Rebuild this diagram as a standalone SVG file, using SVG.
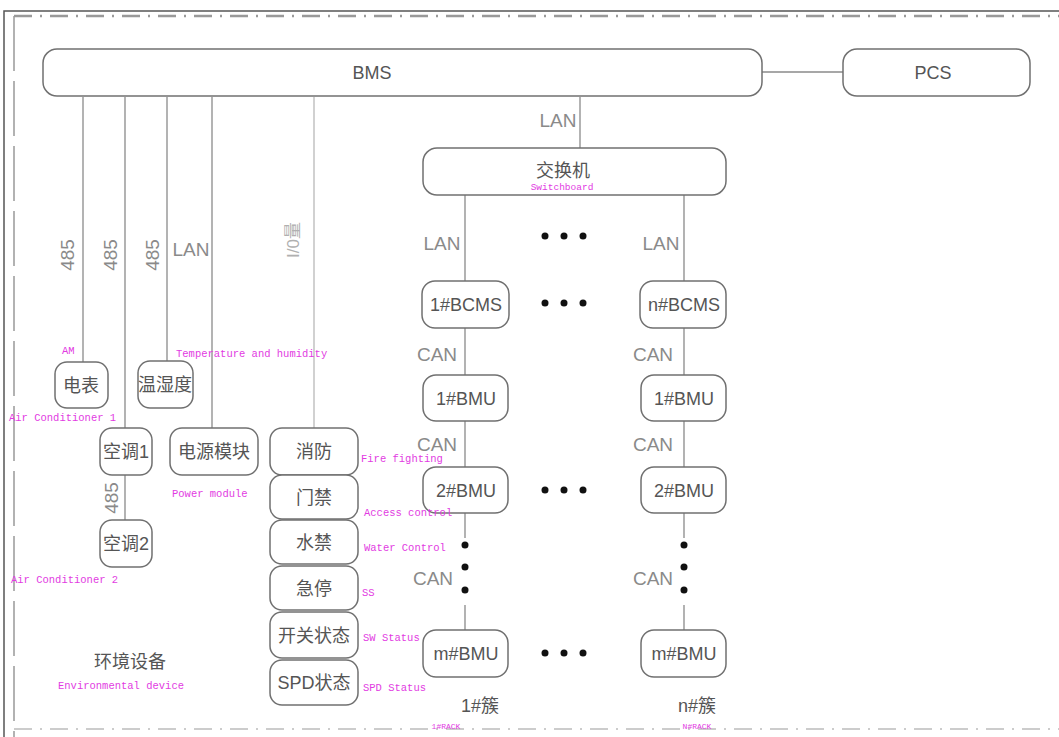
<svg xmlns="http://www.w3.org/2000/svg" width="1059" height="737" viewBox="0 0 1059 737">
<style>
.box{fill:#fff;stroke:#707070;stroke-width:1.5}
.ln{stroke:#8a8a8a;stroke-width:1.3;fill:none}
.lnl{stroke:#b8b8b8;stroke-width:1.3;fill:none}
.t{font-family:"Liberation Sans","Noto Sans CJK SC",sans-serif;fill:#555;font-size:18px;text-anchor:middle}
.lb{font-family:"Liberation Sans","Noto Sans CJK SC",sans-serif;fill:#8a8a8a;font-size:19px;text-anchor:middle}
.m{font-family:"Liberation Mono",monospace;fill:#e23be2;font-size:10.5px}
.ms{font-family:"Liberation Mono",monospace;fill:#e23be2;font-size:8px;text-anchor:middle}
.dot{fill:#111}
</style>
<rect width="1059" height="737" fill="#fff"/>
<g id="frame">
<path d="M4,737 V11 H1059" stroke="#555" stroke-width="1.5" fill="none"/>
<path d="M14,16 H1059" stroke="#999" stroke-width="2.5" stroke-dasharray="18,8,2,8" fill="none"/>
<path d="M14,16 V737" stroke="#999" stroke-width="1.5" stroke-dasharray="55,10" fill="none"/>
<path d="M14,729 H1059" stroke="#ccc" stroke-width="2" stroke-dasharray="18,8,2,8" fill="none"/>
</g>
<g id="connectors">
<path class="ln" d="M762,72 H843"/>
<path class="ln" d="M580,97 V148"/>
<path class="ln" d="M465,195 V281 M465,328 V375 M465,421 V467 M465,513 V538 M465,605 V630"/>
<path class="ln" d="M684,195 V281 M684,328 V375 M684,421 V467 M684,513 V538 M684,605 V630"/>
<path class="ln" d="M83,97 V362"/>
<path class="ln" d="M125,97 V428 M125,475 V520"/>
<path class="ln" d="M167,97 V361"/>
<path class="ln" d="M212,97 V428"/>
<path class="lnl" d="M314,97 V428"/>
</g>
<g id="conn-labels">
<text class="lb" x="558" y="127">LAN</text>
<text class="lb" x="442" y="250">LAN</text>
<text class="lb" x="661" y="250">LAN</text>
<text class="lb" x="437" y="361">CAN</text>
<text class="lb" x="653" y="361">CAN</text>
<text class="lb" x="437" y="451">CAN</text>
<text class="lb" x="653" y="451">CAN</text>
<text class="lb" x="433" y="585">CAN</text>
<text class="lb" x="653" y="585">CAN</text>
<text class="lb" transform="translate(74,255) rotate(-90)">485</text>
<text class="lb" transform="translate(117,255) rotate(-90)">485</text>
<text class="lb" transform="translate(159,255) rotate(-90)">485</text>
<text class="lb" transform="translate(118,498) rotate(-90)">485</text>
<text class="lb" x="191" y="256">LAN</text>
<text class="lb" style="fill:#b0b0b0;font-size:17px" transform="translate(299,240) rotate(-90)">I/0量</text>
</g>
<g id="dots">
<circle class="dot" cx="545" cy="236" r="3.5"/><circle class="dot" cx="564" cy="236" r="3.5"/><circle class="dot" cx="583" cy="236" r="3.5"/>
<circle class="dot" cx="545" cy="303" r="3.5"/><circle class="dot" cx="564" cy="303" r="3.5"/><circle class="dot" cx="583" cy="303" r="3.5"/>
<circle class="dot" cx="545" cy="490" r="3.5"/><circle class="dot" cx="564" cy="490" r="3.5"/><circle class="dot" cx="583" cy="490" r="3.5"/>
<circle class="dot" cx="545" cy="653" r="3.5"/><circle class="dot" cx="564" cy="653" r="3.5"/><circle class="dot" cx="583" cy="653" r="3.5"/>
<circle class="dot" cx="465" cy="545" r="3.5"/><circle class="dot" cx="465" cy="567" r="3.5"/><circle class="dot" cx="465" cy="590" r="3.5"/>
<circle class="dot" cx="684" cy="545" r="3.5"/><circle class="dot" cx="684" cy="567" r="3.5"/><circle class="dot" cx="684" cy="590" r="3.5"/>
</g>
<g id="bms"><rect class="box" x="43" y="49" width="719" height="47" rx="14"/><text class="t" x="372" y="79">BMS</text></g>
<g id="pcs"><rect class="box" x="843" y="49" width="187" height="47" rx="14"/><text class="t" x="933" y="79">PCS</text></g>
<g id="switch"><rect class="box" x="423" y="148" width="303" height="47" rx="14"/><text class="t" x="563" y="177">交换机</text><text class="ms" x="562" y="190" style="font-size:9.5px">Switchboard</text></g>
<g id="bcms1"><rect class="box" x="422" y="281" width="87" height="47" rx="13"/><text class="t" x="466" y="311">1#BCMS</text></g>
<g id="bcmsn"><rect class="box" x="640" y="281" width="86" height="47" rx="13"/><text class="t" x="684" y="311">n#BCMS</text></g>
<g id="bmu1a"><rect class="box" x="423" y="375" width="85" height="46" rx="13"/><text class="t" x="466" y="405">1#BMU</text></g>
<g id="bmu1n"><rect class="box" x="641" y="375" width="85" height="46" rx="13"/><text class="t" x="684" y="405">1#BMU</text></g>
<g id="bmu2a"><rect class="box" x="423" y="467" width="85" height="46" rx="13"/><text class="t" x="466" y="497">2#BMU</text></g>
<g id="bmu2n"><rect class="box" x="641" y="467" width="85" height="46" rx="13"/><text class="t" x="684" y="497">2#BMU</text></g>
<g id="bmuma"><rect class="box" x="423" y="630" width="85" height="47" rx="13"/><text class="t" x="466" y="660">m#BMU</text></g>
<g id="bmumn"><rect class="box" x="641" y="630" width="85" height="47" rx="13"/><text class="t" x="684" y="660">m#BMU</text></g>
<g id="rack1"><text class="t" x="480" y="712">1#簇</text><text class="ms" x="446" y="729">1#RACK</text></g>
<g id="rackn"><text class="t" x="697" y="712">n#簇</text><text class="ms" x="697" y="729">N#RACK</text></g>
<g id="meter"><rect class="box" x="55" y="362" width="53" height="46" rx="12"/><text class="t" x="81" y="392">电表</text><text class="m" x="62" y="354">AM</text></g>
<g id="th"><rect class="box" x="138" y="361" width="55" height="47" rx="12"/><text class="t" x="165" y="391">温湿度</text><text class="m" x="176" y="357">Temperature and humidity</text></g>
<g id="ac1"><rect class="box" x="100" y="428" width="52" height="47" rx="12"/><text class="t" x="126" y="458">空调1</text><text class="m" x="9" y="421">Air Conditioner 1</text></g>
<g id="ac2"><rect class="box" x="100" y="520" width="52" height="47" rx="12"/><text class="t" x="126" y="550">空调2</text><text class="m" x="11" y="583">Air Conditioner 2</text></g>
<g id="power"><rect class="box" x="170" y="428" width="88" height="47" rx="12"/><text class="t" x="214" y="458">电源模块</text><text class="m" x="172" y="497">Power module</text></g>
<g id="fire"><rect class="box" x="270" y="428" width="88" height="47" rx="12"/><text class="t" x="314" y="458">消防</text><text class="m" x="361" y="462">Fire fighting</text></g>
<g id="access"><rect class="box" x="270" y="475" width="88" height="44" rx="12"/><text class="t" x="314" y="504">门禁</text><text class="m" x="364" y="516">Access control</text></g>
<g id="water"><rect class="box" x="270" y="520" width="88" height="44" rx="12"/><text class="t" x="314" y="549">水禁</text><text class="m" x="364" y="551">Water Control</text></g>
<g id="estop"><rect class="box" x="270" y="566" width="88" height="44" rx="12"/><text class="t" x="314" y="595">急停</text><text class="m" x="362" y="596">SS</text></g>
<g id="sw"><rect class="box" x="270" y="612" width="88" height="46" rx="12"/><text class="t" x="314" y="642">开关状态</text><text class="m" x="363" y="641">SW Status</text></g>
<g id="spd"><rect class="box" x="270" y="660" width="88" height="45" rx="12"/><text class="t" x="314" y="689">SPD状态</text><text class="m" x="363" y="691">SPD Status</text></g>
<g id="env"><text class="t" x="130" y="668">环境设备</text><text class="m" x="121" y="689" text-anchor="middle">Environmental device</text></g>
</svg>
